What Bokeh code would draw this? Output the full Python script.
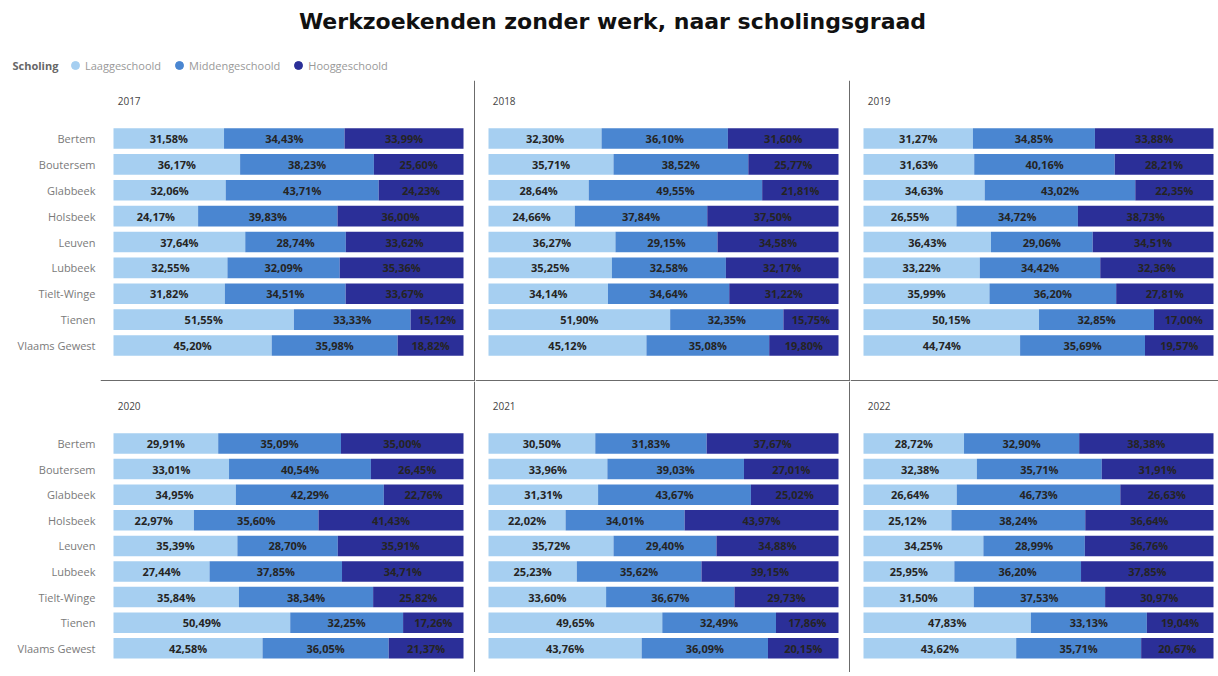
from bokeh.plotting import figure
from bokeh.models import Range1d, Span, Label, Legend, LegendItem, FixedTicker, ColumnDataSource
from bokeh.layouts import column, row
from bokeh.embed import file_html
from bokeh.resources import INLINE
from bokeh.core.properties import value

title_text = "Werkzoekenden zonder werk, naar scholingsgraad"
legend_title = "Scholing"
series_names = ["Laaggeschoold", "Middengeschoold", "Hooggeschoold"]
series_colors = ["#a6cff1", "#4a86d1", "#2b2f98"]

gemeenten = ["Bertem", "Boutersem", "Glabbeek", "Holsbeek", "Leuven",
             "Lubbeek", "Tielt-Winge", "Tienen", "Vlaams Gewest"]
years = ["2017", "2018", "2019", "2020", "2021", "2022"]

laag_2017 = [31.58, 36.17, 32.06, 24.17, 37.64, 32.55, 31.82, 51.55, 45.20]
midden_2017 = [34.43, 38.23, 43.71, 39.83, 28.74, 32.09, 34.51, 33.33, 35.98]
hoog_2017 = [33.99, 25.60, 24.23, 36.00, 33.62, 35.36, 33.67, 15.12, 18.82]

laag_2018 = [32.30, 35.71, 28.64, 24.66, 36.27, 35.25, 34.14, 51.90, 45.12]
midden_2018 = [36.10, 38.52, 49.55, 37.84, 29.15, 32.58, 34.64, 32.35, 35.08]
hoog_2018 = [31.60, 25.77, 21.81, 37.50, 34.58, 32.17, 31.22, 15.75, 19.80]

laag_2019 = [31.27, 31.63, 34.63, 26.55, 36.43, 33.22, 35.99, 50.15, 44.74]
midden_2019 = [34.85, 40.16, 43.02, 34.72, 29.06, 34.42, 36.20, 32.85, 35.69]
hoog_2019 = [33.88, 28.21, 22.35, 38.73, 34.51, 32.36, 27.81, 17.00, 19.57]

laag_2020 = [29.91, 33.01, 34.95, 22.97, 35.39, 27.44, 35.84, 50.49, 42.58]
midden_2020 = [35.09, 40.54, 42.29, 35.60, 28.70, 37.85, 38.34, 32.25, 36.05]
hoog_2020 = [35.00, 26.45, 22.76, 41.43, 35.91, 34.71, 25.82, 17.26, 21.37]

laag_2021 = [30.50, 33.96, 31.31, 22.02, 35.72, 25.23, 33.60, 49.65, 43.76]
midden_2021 = [31.83, 39.03, 43.67, 34.01, 29.40, 35.62, 36.67, 32.49, 36.09]
hoog_2021 = [37.67, 27.01, 25.02, 43.97, 34.88, 39.15, 29.73, 17.86, 20.15]

laag_2022 = [28.72, 32.38, 26.64, 25.12, 34.25, 25.95, 31.50, 47.83, 43.62]
midden_2022 = [32.90, 35.71, 46.73, 38.24, 28.99, 36.20, 37.53, 33.13, 35.71]
hoog_2022 = [38.38, 31.91, 26.63, 36.64, 36.76, 37.85, 30.97, 19.04, 20.67]

panel_data = {
    "2017": (laag_2017, midden_2017, hoog_2017),
    "2018": (laag_2018, midden_2018, hoog_2018),
    "2019": (laag_2019, midden_2019, hoog_2019),
    "2020": (laag_2020, midden_2020, hoog_2020),
    "2021": (laag_2021, midden_2021, hoog_2021),
    "2022": (laag_2022, midden_2022, hoog_2022),
}

# layout geometry (pixels)
HEADER_H = 80
COL_WIDTHS = [475, 375, 368]
COL_LEFT = [100, 0, 0]
BAR_OFFSET = 13
BAR_LEN = [350, 350, 350]
ROW_FRAMES = [(80, 381), (381, 672)]
ROW_FIRST = [138, 443]
ROW_STEP = [25.875, 25.6]
YEAR_CENTER = [100, 405]
LINE_COLOR = "#6b6b6b"
TEXT_COLOR = "#252423"


def fmt(v):
    return ("%.2f" % v).replace(".", ",") + "%"


def make_panel(year, ci, ri):
    vals = panel_data[year]
    n = len(gemeenten)
    framew = COL_WIDTHS[ci] - COL_LEFT[ci]
    ppu = BAR_LEN[ci] / 100.0
    x0 = -BAR_OFFSET / ppu
    x1 = x0 + framew / ppu
    top, bot = ROW_FRAMES[ri]
    step = ROW_STEP[ri]
    first = ROW_FIRST[ri]
    y_bottom = (bot - first) / step
    y_top = (top - first) / step

    p = figure(width=COL_WIDTHS[ci], height=bot - top,
               x_range=Range1d(x0, x1), y_range=Range1d(y_bottom, y_top),
               output_backend="svg", toolbar_location=None,
               min_border=0, min_border_left=COL_LEFT[ci])
    p.outline_line_color = None
    p.xgrid.visible = False
    p.ygrid.visible = False
    p.xaxis.visible = False
    p.background_fill_color = "white"
    p.border_fill_color = "white"

    idx = list(range(n))
    cum = [0.0] * n
    for k, series in enumerate(vals):
        left = cum[:]
        right = [a + b for a, b in zip(cum, series)]
        mid = [(a + b) / 2 for a, b in zip(left, right)]
        src = ColumnDataSource(dict(y=idx, left=left, right=right, mid=mid,
                                    lab=[fmt(v) for v in series]))
        p.hbar(y="y", left="left", right="right", height=0.8, source=src,
               fill_color=series_colors[k], line_color=None)
        p.text(x="mid", y="y", text="lab", source=src, text_align="center",
               text_baseline="middle", text_font=value("Open Sans"),
               text_font_style="bold", text_font_size="11px",
               text_color=TEXT_COLOR)
        cum = right

    if ci == 0:
        p.yaxis.ticker = FixedTicker(ticks=idx)
        p.yaxis.major_label_overrides = {i: g for i, g in enumerate(gemeenten)}
        p.yaxis.major_tick_line_color = None
        p.yaxis.minor_tick_line_color = None
        p.yaxis.major_tick_out = 0
        p.yaxis.major_tick_in = 0
        p.yaxis.minor_tick_out = 0
        p.yaxis.axis_line_color = None
        p.yaxis.major_label_text_font = "Open Sans"
        p.yaxis.major_label_text_font_size = "11px"
        p.yaxis.major_label_text_color = "#7a7a7a"
        p.yaxis.major_label_standoff = 5
    else:
        p.yaxis.visible = False

    p.add_layout(Label(x=1.2, y=(YEAR_CENTER[ri] - first) / step, text=year,
                       text_baseline="middle", text_align="left",
                       text_font="Open Sans", text_font_size="10px",
                       text_color="#444444"))

    if ci < 2:
        p.add_layout(Span(location=x1 - 0.75 / ppu, dimension="height",
                          line_color=LINE_COLOR, line_width=1.5))
    if ri == 0:
        p.add_layout(Span(location=y_bottom - 0.75 / step, dimension="width",
                          line_color=LINE_COLOR, line_width=1.5))
    return p


# header with title and legend
W = sum(COL_WIDTHS)
hdr = figure(width=W, height=HEADER_H, x_range=Range1d(0, W),
             y_range=Range1d(HEADER_H, 0), output_backend="svg",
             toolbar_location=None, min_border=0)
hdr.axis.visible = False
hdr.grid.visible = False
hdr.outline_line_color = None
hdr.add_layout(Label(x=612, y=21, text=title_text, text_align="center",
                     text_baseline="middle", text_font="DejaVu Sans",
                     text_font_style="bold", text_font_size="22px",
                     text_color="#111111"))
hdr.add_layout(Label(x=12, y=65, text=legend_title, text_align="left",
                     text_baseline="middle", text_font="Open Sans",
                     text_font_style="bold", text_font_size="11px",
                     text_color="#666666"))
items = []
for name, c in zip(series_names, series_colors):
    r = hdr.scatter(x=[float("nan")], y=[float("nan")], marker="circle",
                    size=9, fill_color=c, line_color=c)
    items.append(LegendItem(label=value(name), renderers=[r]))
legend = Legend(items=items, orientation="horizontal", location=(65, 5),
                glyph_width=20, glyph_height=20, label_standoff=0, spacing=8,
                padding=0, margin=0, border_line_color=None,
                background_fill_alpha=0, label_text_font="Open Sans",
                label_text_font_size="11px", label_text_color="#999999")
hdr.add_layout(legend)

rows = []
for ri in range(2):
    rows.append(row(*[make_panel(years[ri * 3 + ci], ci, ri) for ci in range(3)]))

layout = column(hdr, *rows)
open("out.html", "w").write(file_html(layout, INLINE))
